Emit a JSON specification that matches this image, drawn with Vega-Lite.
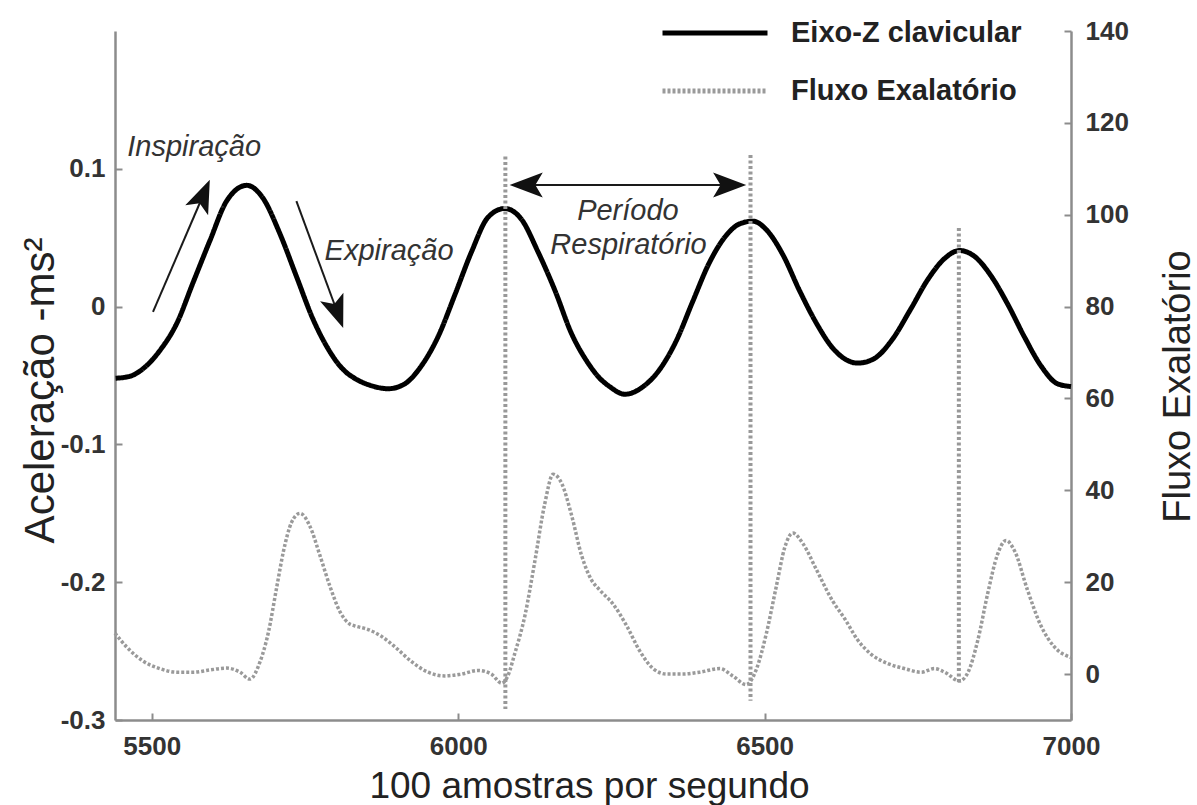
{
  "$schema": "https://vega.github.io/schema/vega-lite/v6.json",
  "width": 956,
  "height": 689,
  "autosize": {"type": "none"},
  "padding": {"left": 115, "top": 31, "right": 126, "bottom": 85},
  "background": "white",
  "config": {
    "view": {"stroke": null},
    "font": "Liberation Sans",
    "axis": {"grid": false},
    "legend": {
      "title": null,
      "orient": "none",
      "legendX": 571,
      "legendY": -27,
      "symbolType": "M-2,0L2,0",
      "symbolSize": 2756,
      "symbolStrokeWidth": 5,
      "labelFontSize": 29,
      "labelFontWeight": "bold",
      "labelColor": "#222222",
      "labelOffset": 47,
      "labelLimit": 400,
      "rowPadding": 14,
      "padding": 0
    }
  },
  "encoding": {
    "x": {
      "field": "x",
      "type": "quantitative",
      "scale": {"domain": [5440, 7000], "nice": false, "zero": false},
      "axis": {
        "values": [5500, 6000, 6500, 7000],
        "format": "d",
        "labelFlush": false,
        "labelFontSize": 26,
        "labelFontWeight": "bold",
        "labelColor": "#333333",
        "domainColor": "#8c8c8c",
        "domainWidth": 2.5,
        "tickColor": "#8c8c8c",
        "tickWidth": 2,
        "tickSize": -7,
        "labelPadding": 20,
        "title": "100 amostras por segundo",
        "titleFontSize": 37,
        "titleFontWeight": "normal",
        "titleColor": "#222222",
        "titleX": 474,
        "titleY": 77,
        "titleAlign": "center",
        "titleBaseline": "alphabetic"
      }
    }
  },
  "layer": [
    {
      "encoding": {
        "y": {
          "field": "v",
          "type": "quantitative",
          "scale": {"domain": [-0.3, 0.2], "nice": false, "zero": false},
          "axis": {
            "orient": "left",
            "values": [-0.3, -0.2, -0.1, 0, 0.1],
            "labelExpr": "datum.value == 0 ? '0' : replace(format(datum.value, '.1f'), '\u2212', '-')",
            "labelFontSize": 26,
            "labelFontWeight": "bold",
            "labelColor": "#333333",
            "domainColor": "#8c8c8c",
            "domainWidth": 2.5,
            "tickColor": "#8c8c8c",
            "tickWidth": 2,
            "tickSize": -7,
            "labelPadding": 17,
            "title": "Aceleração -ms²",
            "titleFontSize": 42,
            "titleFontWeight": "normal",
            "titleColor": "#222222",
            "titleAngle": 270,
            "titleX": -75,
            "titleY": 359,
            "titleAlign": "center",
            "titleBaseline": "middle"
          }
        }
      },
      "layer": [
        {
          "data": {"values": [
            {"x": 5441, "v": -0.052}, {"x": 5464, "v": -0.0506}, {"x": 5486, "v": -0.045}, {"x": 5513, "v": -0.032},
            {"x": 5541, "v": -0.012}, {"x": 5567, "v": 0.017}, {"x": 5595, "v": 0.048}, {"x": 5622, "v": 0.0765},
            {"x": 5655, "v": 0.088}, {"x": 5681, "v": 0.079}, {"x": 5709, "v": 0.053}, {"x": 5736, "v": 0.022},
            {"x": 5763, "v": -0.009}, {"x": 5791, "v": -0.033}, {"x": 5805, "v": -0.042}, {"x": 5818, "v": -0.048},
            {"x": 5831, "v": -0.052}, {"x": 5859, "v": -0.0575}, {"x": 5886, "v": -0.0596}, {"x": 5913, "v": -0.056},
            {"x": 5940, "v": -0.043}, {"x": 5967, "v": -0.022}, {"x": 5995, "v": 0.009}, {"x": 6022, "v": 0.04},
            {"x": 6049, "v": 0.065}, {"x": 6076, "v": 0.0712}, {"x": 6103, "v": 0.0635}, {"x": 6130, "v": 0.04},
            {"x": 6158, "v": 0.0116}, {"x": 6185, "v": -0.0196}, {"x": 6212, "v": -0.041}, {"x": 6231, "v": -0.052},
            {"x": 6247, "v": -0.058}, {"x": 6272, "v": -0.0636}, {"x": 6302, "v": -0.058}, {"x": 6329, "v": -0.0455},
            {"x": 6356, "v": -0.0247}, {"x": 6383, "v": 0.004}, {"x": 6410, "v": 0.032}, {"x": 6438, "v": 0.052},
            {"x": 6459, "v": 0.06}, {"x": 6481, "v": 0.062}, {"x": 6503, "v": 0.0557}, {"x": 6530, "v": 0.0375},
            {"x": 6557, "v": 0.0116}, {"x": 6584, "v": -0.0116}, {"x": 6611, "v": -0.03}, {"x": 6631, "v": -0.038},
            {"x": 6652, "v": -0.041}, {"x": 6679, "v": -0.0377}, {"x": 6707, "v": -0.0247}, {"x": 6739, "v": -0.0014},
            {"x": 6766, "v": 0.0194}, {"x": 6794, "v": 0.035}, {"x": 6818, "v": 0.0407}, {"x": 6843, "v": 0.0363},
            {"x": 6870, "v": 0.022}, {"x": 6897, "v": 0.0015}, {"x": 6924, "v": -0.022}, {"x": 6951, "v": -0.043},
            {"x": 6978, "v": -0.056}, {"x": 7000, "v": -0.058}
          ]},
          "mark": {"type": "line", "strokeWidth": 5, "interpolate": "monotone"},
          "encoding": {
            "color": {
              "datum": "Eixo-Z clavicular",
              "scale": {"domain": ["Eixo-Z clavicular", "Fluxo Exalatório"], "range": ["#000000", "#9a9a9a"]},
              "legend": {"title": null}
            },
            "strokeDash": {
              "datum": "Eixo-Z clavicular",
              "scale": {"domain": ["Eixo-Z clavicular", "Fluxo Exalatório"], "range": [[1, 0], [3, 2]]},
              "legend": {"title": null}
            }
          }
        },
        {
          "data": {"values": [
            {"x": 6077, "v": 0.109, "v2": -0.292},
            {"x": 6477, "v": 0.11, "v2": -0.286},
            {"x": 6817, "v": 0.057, "v2": -0.274}
          ]},
          "mark": {"type": "rule", "stroke": "#999999", "strokeWidth": 4, "strokeDash": [3, 2.5]},
          "encoding": {"y2": {"field": "v2"}}
        },
        {
          "data": {"values": [
            {"x": 5502, "x2": 5584, "v": -0.0039, "v2": 0.081},
            {"x": 5736, "x2": 5803, "v": 0.0765, "v2": -0.0043},
            {"x": 6111, "x2": 6443, "v": 0.0882, "v2": 0.0882}
          ]},
          "mark": {"type": "rule", "stroke": "#1a1a1a", "strokeWidth": 2},
          "encoding": {"x2": {"field": "x2"}, "y2": {"field": "v2"}}
        },
        {
          "data": {"values": [
            {"x": 5584, "v": 0.081, "a": 23.3},
            {"x": 5803, "v": -0.0043, "a": 159.8},
            {"x": 6111, "v": 0.0882, "a": 270},
            {"x": 6443, "v": 0.0882, "a": 90}
          ]},
          "mark": {"type": "point", "shape": "M0,-1L0.75,1L0,0.55L-0.75,1Z", "size": 1100, "filled": true, "color": "#111111", "opacity": 1},
          "encoding": {"angle": {"field": "a", "type": "quantitative", "scale": null}}
        },
        {
          "data": {"values": [
            {"x": 5460, "v": 0.116, "t": "Inspiração"},
            {"x": 5782, "v": 0.0407, "t": "Expiração"}
          ]},
          "mark": {"type": "text", "align": "left", "baseline": "middle", "fontSize": 29, "fontStyle": "italic", "color": "#333333"},
          "encoding": {"text": {"field": "t"}}
        },
        {
          "data": {"values": [
            {"x": 6277, "v": 0.0697, "t": "Período"},
            {"x": 6278, "v": 0.045, "t": "Respiratório"}
          ]},
          "mark": {"type": "text", "align": "center", "baseline": "middle", "fontSize": 29, "fontStyle": "italic", "color": "#333333"},
          "encoding": {"text": {"field": "t"}}
        }
      ]
    },
    {
      "data": {"values": [
        {"x": 5440, "f": 8.9}, {"x": 5459, "f": 5.9}, {"x": 5486, "f": 2.8}, {"x": 5513, "f": 1.2}, {"x": 5541, "f": 0.4},
        {"x": 5568, "f": 0.4}, {"x": 5595, "f": 0.9}, {"x": 5622, "f": 1.3}, {"x": 5644, "f": 0.4}, {"x": 5660, "f": -1.1},
        {"x": 5677, "f": 2.8}, {"x": 5690, "f": 8.9}, {"x": 5704, "f": 19}, {"x": 5715, "f": 26.8}, {"x": 5728, "f": 33},
        {"x": 5742, "f": 35}, {"x": 5758, "f": 32.2}, {"x": 5774, "f": 26}, {"x": 5791, "f": 19}, {"x": 5807, "f": 13.6},
        {"x": 5823, "f": 10.9}, {"x": 5831, "f": 10.5}, {"x": 5853, "f": 9.7}, {"x": 5875, "f": 8.2}, {"x": 5897, "f": 5.9},
        {"x": 5924, "f": 2.7}, {"x": 5951, "f": 0.4}, {"x": 5978, "f": -0.4}, {"x": 6005, "f": 0}, {"x": 6033, "f": 0.8},
        {"x": 6054, "f": 0}, {"x": 6071, "f": -2}, {"x": 6081, "f": -0.4}, {"x": 6092, "f": 4.3}, {"x": 6109, "f": 12.8},
        {"x": 6125, "f": 24.5}, {"x": 6141, "f": 36.9}, {"x": 6155, "f": 43.5}, {"x": 6169, "f": 41.5}, {"x": 6185, "f": 34.6},
        {"x": 6201, "f": 26}, {"x": 6217, "f": 20.6}, {"x": 6231, "f": 18.3}, {"x": 6253, "f": 15.2}, {"x": 6275, "f": 10.5},
        {"x": 6296, "f": 5.1}, {"x": 6318, "f": 1.2}, {"x": 6340, "f": 0}, {"x": 6367, "f": 0}, {"x": 6394, "f": 0.4},
        {"x": 6427, "f": 1.2}, {"x": 6448, "f": -0.4}, {"x": 6470, "f": -2.3}, {"x": 6487, "f": 1.2}, {"x": 6503, "f": 8.9},
        {"x": 6519, "f": 19}, {"x": 6533, "f": 27.6}, {"x": 6546, "f": 30.7}, {"x": 6563, "f": 28.3}, {"x": 6584, "f": 22.9},
        {"x": 6611, "f": 15.9}, {"x": 6631, "f": 12}, {"x": 6652, "f": 7.4}, {"x": 6674, "f": 4.3}, {"x": 6701, "f": 2.3},
        {"x": 6728, "f": 1.2}, {"x": 6756, "f": 0.4}, {"x": 6777, "f": 1.2}, {"x": 6794, "f": 0.4}, {"x": 6818, "f": -1.5},
        {"x": 6832, "f": 0.4}, {"x": 6848, "f": 7.4}, {"x": 6864, "f": 17.5}, {"x": 6880, "f": 26}, {"x": 6894, "f": 29.1},
        {"x": 6908, "f": 26.8}, {"x": 6929, "f": 18.3}, {"x": 6951, "f": 10.5}, {"x": 6973, "f": 5.9}, {"x": 7000, "f": 3.6}
      ]},
      "mark": {"type": "line", "strokeWidth": 3.5, "interpolate": "monotone"},
      "encoding": {
        "y": {
          "field": "f",
          "type": "quantitative",
          "scale": {"domain": [-10, 140], "nice": false, "zero": false},
          "axis": {
            "orient": "right",
            "values": [0, 20, 40, 60, 80, 100, 120, 140],
            "labelFontSize": 26,
            "labelFontWeight": "bold",
            "labelColor": "#333333",
            "domainColor": "#8c8c8c",
            "domainWidth": 2.5,
            "tickColor": "#8c8c8c",
            "tickWidth": 2,
            "tickSize": -7,
            "labelPadding": 21,
            "title": "Fluxo Exalatório",
            "titleAngle": 270,
            "titleFontSize": 38,
            "titleFontWeight": "normal",
            "titleColor": "#222222",
            "titleX": 107,
            "titleY": 355,
            "titleAlign": "center",
            "titleBaseline": "middle"
          }
        },
        "color": {
          "datum": "Fluxo Exalatório",
          "scale": {"domain": ["Eixo-Z clavicular", "Fluxo Exalatório"], "range": ["#000000", "#9a9a9a"]},
          "legend": {"title": null}
        },
        "strokeDash": {
          "datum": "Fluxo Exalatório",
          "scale": {"domain": ["Eixo-Z clavicular", "Fluxo Exalatório"], "range": [[1, 0], [3, 2]]},
          "legend": {"title": null}
        }
      }
    }
  ],
  "resolve": {"scale": {"y": "independent"}}
}
